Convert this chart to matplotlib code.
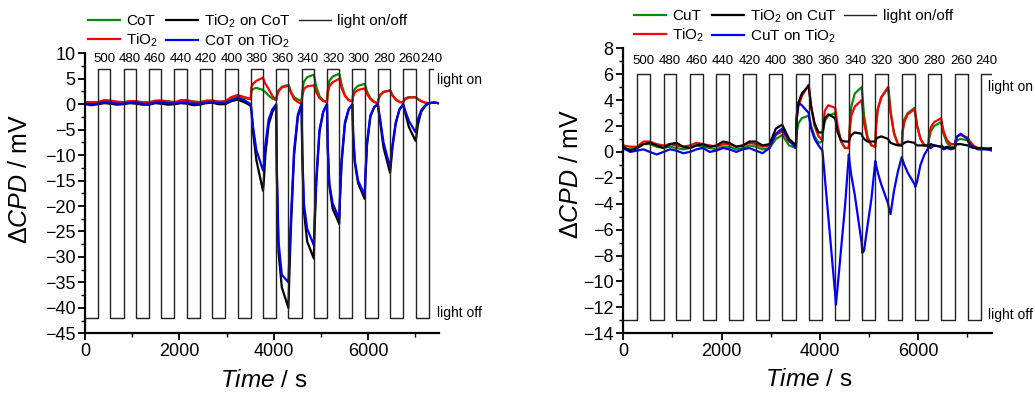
import matplotlib
matplotlib.use("Agg")
import matplotlib.pyplot as plt
from matplotlib.ticker import MultipleLocator

# =============================================================================
# DADOS
# =============================================================================

wavelengths = [500, 480, 460, 440, 420, 400, 380, 360, 340, 320, 300, 280, 260, 240]
light_on_s = [280, 819, 1358, 1896, 2435, 2974, 3513, 4052, 4590, 5129, 5668, 6207, 6746, 7284]
light_off_s = [540, 1079, 1618, 2156, 2695, 3234, 3773, 4312, 4850, 5389, 5928, 6467, 7006]
light_end_left = 7380
light_end_right = 7500

time_s = [
    0, 140, 280, 410, 540, 680, 819, 950, 1079, 1220, 1358, 1490, 1618, 1760,
    1896, 2030, 2156, 2300, 2435, 2565, 2695, 2835, 2974, 3105, 3234, 3375,
    3513, 3528, 3563, 3633, 3773, 3788, 3823, 3893, 3973,
    4052, 4067, 4102, 4172, 4312, 4327, 4362, 4432, 4512,
    4590, 4605, 4640, 4710, 4850, 4865, 4900, 4970, 5050,
    5129, 5144, 5179, 5249, 5389, 5404, 5439, 5509, 5589,
    5668, 5683, 5718, 5788, 5928, 5943, 5978, 6048, 6128,
    6207, 6222, 6257, 6327, 6467, 6482, 6517, 6587, 6667,
    6746, 6761, 6796, 6866, 7006, 7021, 7056, 7126, 7206,
    7284, 7400, 7500,
]

# painel esquerdo (CoT) - mV
left_cot = [
    0.4, 0.4, 0.4, 0.7, 0.6, 0.4, 0.4, 0.5, 0.5, 0.3, 0.4, 0.6, 0.7, 0.6,
    0.4, 0.6, 0.6, 0.5, 0.4, 0.6, 0.7, 0.5, 0.5, 1.2, 1.5, 1.2,
    1.0, 2.6, 3.0, 3.2, 2.8, 2.6, 2.4, 1.7, 1.1,
    0.8, 1.6, 2.7, 3.4, 3.8, 3.5, 2.5, 1.4, 0.9,
    0.6, 2.5, 4.4, 5.3, 5.8, 5.2, 3.5, 1.6, 0.7,
    0.5, 2.5, 4.6, 5.4, 6.0, 5.5, 3.8, 1.8, 0.8,
    0.5, 2.0, 3.0, 3.6, 4.0, 3.6, 2.5, 1.2, 0.5,
    0.2, 1.0, 1.8, 2.4, 2.7, 2.5, 1.8, 1.0, 0.5,
    0.3, 0.8, 1.2, 1.4, 1.3, 1.2, 1.0, 0.6, 0.3,
    0.2, 0.3, 0.2,
]
left_tio2 = [
    0.3, 0.3, 0.4, 0.8, 0.7, 0.5, 0.4, 0.6, 0.6, 0.4, 0.3, 0.7, 0.7, 0.5,
    0.3, 0.8, 0.8, 0.5, 0.4, 0.7, 0.7, 0.5, 0.6, 1.4, 1.8, 1.4,
    1.0, 3.4, 4.0, 4.6, 5.2, 4.8, 4.0, 3.0, 1.6,
    0.8, 1.5, 2.5, 3.3, 3.6, 3.3, 2.3, 1.0, 0.4,
    0.1, 1.5, 3.0, 3.5, 3.7, 3.4, 2.4, 1.2, 0.6,
    0.4, 2.0, 3.5, 4.3, 5.0, 4.6, 3.2, 1.6, 0.8,
    0.5, 1.5, 2.3, 2.8, 3.1, 2.8, 2.0, 1.0, 0.4,
    0.2, 1.0, 1.8, 2.4, 2.7, 2.4, 1.7, 0.9, 0.4,
    0.3, 0.7, 1.0, 1.3, 1.4, 1.3, 1.0, 0.6, 0.3,
    0.2, 0.3, 0.2,
]
left_tio2_on_cot = [
    0.0, -0.2, 0.0, 0.2, 0.1, -0.1, 0.0, 0.2, 0.1, -0.1, -0.1, 0.2, 0.1, -0.1,
    0.0, 0.2, 0.1, -0.2, -0.1, 0.2, 0.3, 0.0, 0.0, 0.6, 0.9, 0.4,
    -0.3, -1.5, -5.5, -11.0, -17.0, -15.5, -10.0, -4.0, -1.5,
    -0.3, -14.0, -29.0, -36.0, -40.0, -35.0, -25.0, -10.0, -2.5,
    0.0, -10.0, -21.0, -27.0, -30.3, -25.0, -16.0, -5.5, -1.5,
    0.0, -8.5, -16.0, -20.5, -23.5, -19.0, -11.5, -4.0, -1.0,
    0.0, -6.0, -11.5, -15.5, -18.6, -14.5, -8.0, -2.5, -0.6,
    0.0, -1.2, -3.5, -8.5, -13.5, -12.0, -8.5, -3.8, -1.0,
    0.0, -0.8, -2.0, -4.5, -7.2, -6.5, -4.0, -1.5, -0.4,
    0.2, 0.3, 0.2,
]
left_cot_on_tio2 = [
    0.1, 0.0, 0.1, 0.4, 0.3, 0.1, 0.1, 0.3, 0.3, 0.1, 0.0, 0.3, 0.4, 0.2,
    0.1, 0.3, 0.3, 0.1, 0.1, 0.3, 0.4, 0.2, 0.2, 0.8, 1.2, 0.8,
    0.0, -1.0, -4.5, -9.0, -13.0, -12.3, -8.0, -3.0, -1.0,
    0.0, -13.0, -27.0, -33.5, -35.0, -31.0, -23.0, -9.0, -2.0,
    0.0, -9.0, -19.5, -24.5, -27.7, -23.0, -15.0, -5.0, -1.5,
    0.0, -8.0, -15.5, -19.5, -22.5, -18.0, -11.0, -3.5, -1.0,
    0.0, -5.5, -11.0, -15.0, -17.9, -14.0, -7.5, -2.2, -0.6,
    0.0, -1.0, -3.0, -7.5, -12.5, -11.0, -8.0, -3.5, -1.0,
    0.0, -0.5, -1.5, -3.3, -5.5, -5.0, -3.0, -1.2, -0.3,
    0.2, 0.3, 0.2,
]

# painel direito (CuT) - mV
right_cut = [
    0.2, 0.2, 0.3, 0.6, 0.6, 0.4, 0.3, 0.4, 0.3, 0.2, 0.3, 0.5, 0.4, 0.3,
    0.2, 0.4, 0.4, 0.2, 0.3, 0.5, 0.4, 0.2, 0.3, 1.0, 1.3, 0.5,
    0.3, 1.5, 2.2, 2.6, 2.8, 2.6, 2.0, 1.2, 0.7,
    0.8, 1.6, 2.4, 2.8, 3.0, 2.6, 1.8, 0.8, 0.3,
    0.3, 1.8, 3.5, 4.5, 5.0, 4.4, 2.8, 1.2, 0.5,
    0.4, 2.0, 3.3, 4.2, 5.0, 4.6, 3.2, 1.5, 0.6,
    0.5, 1.6, 2.5, 3.0, 3.4, 3.0, 2.1, 1.0, 0.5,
    0.4, 1.0, 1.6, 2.0, 2.3, 2.0, 1.4, 0.7, 0.4,
    0.4, 0.7, 0.9, 1.0, 0.9, 0.8, 0.6, 0.4, 0.3,
    0.2, 0.3, 0.2,
]
right_tio2 = [
    0.5, 0.4, 0.4, 0.8, 0.8, 0.6, 0.5, 0.6, 0.5, 0.4, 0.5, 0.7, 0.6, 0.5,
    0.4, 0.6, 0.6, 0.4, 0.5, 0.7, 0.6, 0.4, 0.5, 1.3, 1.6, 0.8,
    0.5, 2.5, 3.5, 4.3, 5.2, 4.7, 3.5, 2.0, 1.2,
    0.9, 2.0, 3.2, 3.6, 3.4, 3.0, 2.0, 0.8, 0.3,
    0.3, 1.5, 2.8, 3.5, 4.0, 3.5, 2.2, 1.0, 0.5,
    0.4, 2.0, 3.3, 4.2, 5.0, 4.4, 3.0, 1.4, 0.6,
    0.5, 1.5, 2.3, 2.9, 3.3, 2.9, 2.0, 1.0, 0.5,
    0.5, 1.2, 1.9, 2.3, 2.6, 2.3, 1.6, 0.9, 0.6,
    0.6, 0.9, 1.2, 1.3, 1.1, 1.0, 0.8, 0.5, 0.3,
    0.3, 0.3, 0.2,
]
right_tio2_on_cut = [
    0.4, 0.1, 0.3, 0.6, 0.7, 0.5, 0.3, 0.6, 0.7, 0.4, 0.3, 0.5, 0.6, 0.4,
    0.5, 0.8, 0.7, 0.4, 0.5, 0.8, 0.8, 0.5, 0.6, 1.8, 2.1, 1.0,
    0.5, 2.8, 3.8, 4.5, 5.1, 4.6, 3.5, 2.2, 1.5,
    1.5, 1.8, 2.6, 2.9, 2.6, 2.3, 1.5, 0.9, 0.8,
    0.8, 1.0, 1.3, 1.5, 1.4, 1.2, 1.0, 0.8, 0.8,
    0.8, 1.0, 1.1, 1.2, 1.0, 0.9, 0.7, 0.6, 0.5,
    0.5, 0.6, 0.7, 0.8, 0.7, 0.6, 0.5, 0.5, 0.5,
    0.5, 0.4, 0.6, 0.5, 0.4, 0.5, 0.3, 0.4, 0.3,
    0.3, 0.5, 0.6, 0.6, 0.5, 0.5, 0.4, 0.3, 0.3,
    0.3, 0.2, 0.3,
]
right_cut_on_tio2 = [
    0.3, 0.0, 0.1, 0.2, 0.0, -0.2, 0.0, 0.2, 0.1, -0.1, 0.0, 0.2, 0.3, 0.0,
    0.1, 0.3, 0.2, 0.0, 0.2, 0.3, 0.1, -0.1, 0.3, 1.4, 1.8, 0.9,
    0.3, 2.5, 3.8, 3.6, 3.0, 2.6, 1.8, 1.0, 0.5,
    0.1, -0.5, -2.0, -5.0, -11.0, -11.8, -10.4, -7.5, -4.2,
    -0.2, -0.8, -1.8, -3.3, -7.0, -7.8, -7.6, -5.7, -3.6,
    -0.7, -1.0, -1.6, -2.5, -4.0, -4.3, -4.8, -3.0, -1.5,
    -0.4, -0.6, -1.0, -1.6, -2.5, -2.7, -2.3, -1.0, -0.2,
    0.3, 0.4, 0.3, 0.5, 0.4, 0.3, 0.2, 0.3, 0.2,
    0.3, 0.8, 1.2, 1.4, 1.0, 0.8, 0.6, 0.4, 0.2,
    0.2, 0.2, 0.1,
]

# =============================================================================
# ESTILO
# =============================================================================

plt.rcParams["font.family"] = "Liberation Sans"
plt.rcParams["mathtext.fontset"] = "custom"
plt.rcParams["mathtext.rm"] = "Liberation Sans"
plt.rcParams["mathtext.it"] = "Liberation Sans:italic"
plt.rcParams["mathtext.bf"] = "Liberation Sans:bold"

GREEN = "#0a8a0a"
RED = "#ff0000"
BLUE = "#0000ff"
BLACK = "#000000"


def light_wave(end, low, high):
    xs, ys = [0], [low]
    for on, off in zip(light_on_s, light_off_s):
        xs += [on, off]
        ys += [high, low]
    xs += [light_on_s[-1], end]
    ys += [high, high]
    return xs, ys


def painel(ax, traces, ordem, end, low, high, ylim, ymaj, label_y, on_y, off_y, leg_x, txt_x):
    for vals, cor, lab in traces:
        ax.plot(time_s, vals, color=cor, lw=1.6, label=lab)
    xs, ys = light_wave(end, low, high)
    ax.step(xs, ys, where="post", color="#222222", lw=1.0, label="light on/off")

    # rotulos de comprimento de onda
    offs = light_off_s + [end]
    for wl, on, off in zip(wavelengths, light_on_s, offs):
        ax.text((on + off) / 2, label_y, str(wl), ha="center", va="center", fontsize=9.5)
    ax.text(txt_x, on_y, "light on", ha="left", va="center", fontsize=10, clip_on=False)
    ax.text(txt_x, off_y, "light off", ha="left", va="center", fontsize=10, clip_on=False)

    ax.set_xlim(0, 7500)
    ax.set_ylim(*ylim)
    ax.xaxis.set_major_locator(MultipleLocator(2000))
    ax.xaxis.set_minor_locator(MultipleLocator(1000))
    ax.yaxis.set_major_locator(MultipleLocator(ymaj))
    ax.yaxis.set_minor_locator(MultipleLocator(ymaj / 2))
    for s in ["top", "right"]:
        ax.spines[s].set_visible(False)
    for s in ["left", "bottom"]:
        ax.spines[s].set_linewidth(1.6)
    ax.tick_params(which="major", direction="out", length=5, width=1.3, labelsize=13, pad=2)
    ax.tick_params(which="minor", direction="out", length=3, width=1.0)

    ax.set_xlabel(r"$\mathit{Time}$ / s", fontsize=17.5)
    ax.set_ylabel(r"$\Delta\mathit{CPD}$ / mV", fontsize=18)

    h, l = ax.get_legend_handles_labels()
    ax.legend([h[i] for i in ordem], [l[i] for i in ordem], ncol=3, loc="lower left",
              bbox_to_anchor=(leg_x, 1.0), frameon=False, fontsize=11, handlelength=2.1,
              handletextpad=0.4, columnspacing=0.5, labelspacing=0.2, borderpad=0.0,
              borderaxespad=0.2)


fig = plt.figure(figsize=(10.35, 3.94), dpi=100)
ax1 = fig.add_axes([0.0821, 0.1541, 0.3419, 0.7107])
ax2 = fig.add_axes([0.6022, 0.1541, 0.3561, 0.7234])

painel(ax1,
       [(left_cot, GREEN, "CoT"), (left_tio2, RED, "TiO$_2$"),
        (left_tio2_on_cot, BLACK, "TiO$_2$ on CoT"), (left_cot_on_tio2, BLUE, "CoT on TiO$_2$")],
       [0, 1, 2, 3, 4], light_end_left, -42, 7, (-45, 10), 5, 8.9, 4.7, -41, 0.0, 7470)
painel(ax2,
       [(right_cut, GREEN, "CuT"), (right_tio2, RED, "TiO$_2$"),
        (right_cut_on_tio2, BLUE, "CuT on TiO$_2$"), (right_tio2_on_cut, BLACK, "TiO$_2$ on CuT")],
       [0, 1, 3, 2, 4], light_end_right, -13, 6, (-14, 8), 2, 7.0, 5.0, -12.6, 0.02, 7420)

ax1.yaxis.set_label_coords(-0.15, 0.55)
ax2.yaxis.set_label_coords(-0.11, 0.56)
ax1.xaxis.set_label_coords(0.504, -0.13)
ax2.xaxis.set_label_coords(0.504, -0.125)

fig.savefig("out.png", dpi=100)
